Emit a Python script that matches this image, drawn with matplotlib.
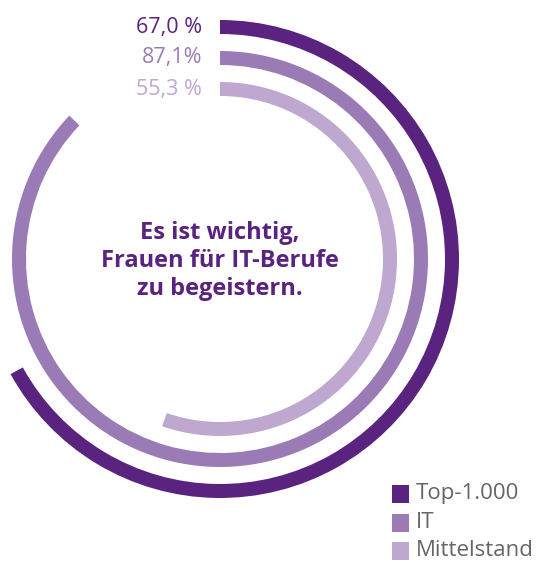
import matplotlib
matplotlib.use("Agg")
import matplotlib.pyplot as plt
from matplotlib.patches import Wedge, Rectangle

# data
categories = ["Top-1.000", "IT", "Mittelstand"]
values = [67.0, 87.1, 55.3]
value_labels = ["67,0 %", "87,1%", "55,3 %"]
colors = ["#5a2380", "#9b7bb5", "#bfa8cf"]
center_text = "Es ist wichtig,\nFrauen für IT-Berufe\nzu begeistern."

W, H = 545, 563
cx, cy = 220, 259          # ring centre in pixels
radii = [232, 201, 170]    # mid-line of each band
band = 14

fig = plt.figure(figsize=(W / 100, H / 100), dpi=100)
ax = fig.add_axes([0, 0, 1, 1])
ax.set_xlim(0, W)
ax.set_ylim(H, 0)
ax.set_aspect("equal")
ax.axis("off")

for r, v, col, lab in zip(radii, values, colors, value_labels):
    # y axis is flipped, so -90 is 12 o'clock and angles grow clockwise
    ax.add_patch(Wedge((cx, cy), r + band / 2, -90, -90 + 360 * v / 100,
                       width=band, color=col, lw=0))
    ax.text(cx - 18, cy - r, lab, ha="right", va="center",
            fontsize=15.5, color=col, family="Open Sans")

ax.text(cx, cy + 2, center_text, ha="center", va="center", fontsize=17,
        fontweight="bold", color="#5a2380", family="Open Sans", linespacing=1.22)

# legend
for i, (cat, col) in enumerate(zip(categories, colors)):
    y = 494 + i * 28.5
    ax.add_patch(Rectangle((392, y - 9), 17, 18, color=col, lw=0))
    ax.text(416, y, cat, ha="left", va="center", fontsize=16,
            color="#666666", family="Open Sans")

fig.savefig("out.png", dpi=100)
